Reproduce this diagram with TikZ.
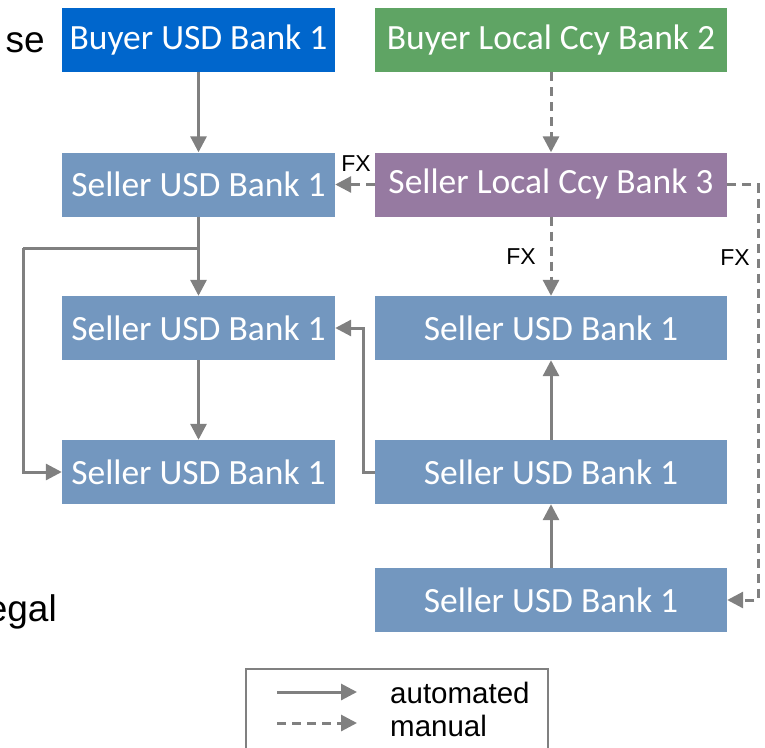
\documentclass[tikz,border=0pt]{standalone}
\usepackage{fontspec}
\setmainfont{Liberation Sans}
\newfontfamily\boxfont{Carlito}
\usetikzlibrary{arrows.meta}

\definecolor{bluebank}{HTML}{0066CC}
\definecolor{greenbank}{HTML}{5FA464}
\definecolor{purplebank}{HTML}{967AA1}
\definecolor{sellerbank}{HTML}{7397BF}
\definecolor{linkgrey}{HTML}{808080}

\begin{document}
\begin{tikzpicture}[x=1pt,y=-1pt,
  bank/.style={minimum height=64pt, inner sep=0pt, text=white,
    font=\boxfont\fontsize{35.5}{40}\selectfont},
  narrowbank/.style={bank, minimum width=273pt},
  widebank/.style={bank, minimum width=352pt},
  link/.style={draw=linkgrey, line width=3pt,
    -{Triangle[length=16pt,width=16pt]}},
  manual/.style={link, dash pattern=on 9pt off 6pt},
  fxlabel/.style={font=\fontsize{23}{26}\selectfont, inner sep=0pt},
  sidetext/.style={font=\fontsize{37}{42}\selectfont, inner sep=0pt},
  legendtext/.style={font=\fontsize{29.5}{32}\selectfont, inner sep=0pt, anchor=base west},
]
\useasboundingbox (0,0) rectangle (765,747);

% margin text
\node[sidetext, anchor=base east] (se) at (45,52) {se};
\node[sidetext, anchor=base east] (egal) at (57,621) {egal};

% banks
\node[narrowbank, fill=bluebank] (b1) at (198.5,40) {Buyer USD Bank 1};
\node[widebank, fill=greenbank] (b2) at (551,40) {Buyer Local Ccy Bank 2};
\node[narrowbank, fill=sellerbank] (s1) at (198.5,184.5) {Seller USD Bank 1};
\node[widebank, fill=purplebank] (s3) at (551,184.5) {Seller Local Ccy Bank 3};
\node[narrowbank, fill=sellerbank] (l3) at (198.5,328) {Seller USD Bank 1};
\node[widebank, fill=sellerbank] (r3) at (551,328) {Seller USD Bank 1};
\node[narrowbank, fill=sellerbank] (l4) at (198.5,472) {Seller USD Bank 1};
\node[widebank, fill=sellerbank] (r4) at (551,472) {Seller USD Bank 1};
\node[widebank, fill=sellerbank] (r5) at (551,600) {Seller USD Bank 1};

% FX labels
\node[fxlabel] (fx1) at (356,164) {FX};
\node[fxlabel] (fx2) at (521,257) {FX};
\node[fxlabel] (fx3) at (735,258) {FX};

% routing points
\coordinate (split) at (198.5,248);
\coordinate (loopL) at (23,248);
\coordinate (jogM) at (363,472);
\coordinate (fxR) at (758,184.5);

% connectors
\draw[link] (b1) -- (s1);
\draw[manual] (b2) -- (s3);
\draw[manual] (s3) -- (s1);
\draw[manual] (s3) -- (r3);
\draw[manual] (s3.east) -- (fxR) |- (r5.east);
\draw[link] (s1) -- (l3);
\draw[link, -] (split) -- (loopL);
\draw[link] (loopL) |- (l4.west);
\draw[link] (l3) -- (l4);
\draw[link] (r4.west) -- (jogM) |- (l3.east);
\draw[link] (r4) -- (r3);
\draw[link] (r5) -- (r4);

% legend
\draw[draw=linkgrey, line width=1.5pt] (246,760) |- (548,669) -- (548,760);
\coordinate (la1) at (277,692);
\coordinate (la2) at (357,692);
\coordinate (lb1) at (277,723);
\coordinate (lb2) at (357,723);
\draw[link] (la1) -- (la2);
\draw[manual] (lb1) -- (lb2);
\node[legendtext] (auto) at (390,703) {automated};
\node[legendtext] (man) at (390,736) {manual};
\end{tikzpicture}
\end{document}
